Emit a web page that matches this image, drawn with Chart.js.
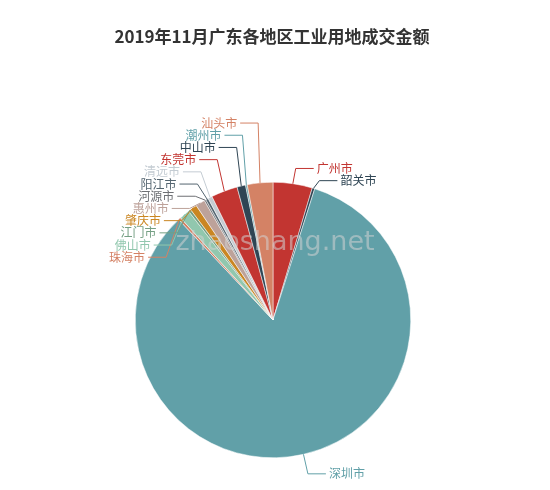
<!DOCTYPE html>
<html><head><meta charset="utf-8">
<script src="https://cdn.jsdelivr.net/npm/chart.js@4"></script>
<style>body{margin:0;background:#fff}#w{width:550px;height:490px}</style></head>
<body><div id="w"><canvas id="c"></canvas></div>
<script>
const categories=['广州市','韶关市','深圳市','珠海市','佛山市','江门市','肇庆市','惠州市','河源市','阳江市','清远市','东莞市','中山市','潮州市','汕头市'];
const values=[4.6,0.3,83.1,0.3,1.2,0.3,0.8,1.1,0.2,0.3,0.5,3.1,1.0,0.2,3.0];
const colors=['#c23531','#2f4554','#61a0a8','#d48265','#91c7ae','#749f83','#ca8622','#bda29a','#6e7074','#546570','#c4ccd3','#c23531','#2f4554','#61a0a8','#d48265'];
const labelPlugin={id:'lbl',afterDraw(ch){
 const ctx=ch.ctx,meta=ch.getDatasetMeta(0);
 ctx.save();
 ctx.font='bold 17px "Noto Sans CJK SC"';ctx.fillStyle='#333';ctx.textAlign='center';ctx.textBaseline='middle';
 ctx.fillText('2019年11月广东各地区工业用地成交金额',272,37);
 const items=meta.data.map((a,i)=>{const m=(a.startAngle+a.endAngle)/2;const cx=a.x,cy=a.y,r=a.outerRadius;
  return {i,m,cy,x0:cx+Math.cos(m)*r,y0:cy+Math.sin(m)*r,x1:cx+Math.cos(m)*(r+20),y1:cy+Math.sin(m)*(r+20),right:Math.cos(m)>=0,cx};});
 ['L','R'].forEach(side=>{
  const g=items.filter(t=>(side==='R')===t.right&&t.y1<t.cy).sort((a,b)=>b.y1-a.y1);
  if(g.length<2)return;
  const m0=g.reduce((s,t)=>s+t.y1,0)/g.length;
  for(let k=1;k<g.length;k++){if(g[k].y1>g[k-1].y1-12.2)g[k].y1=g[k-1].y1-12.2;}
  const m1=g.reduce((s,t)=>s+t.y1,0)/g.length;
  g.forEach(t=>t.y1+=m0-m1+8);
 });
 ctx.font='12px "Noto Sans CJK SC"';ctx.textBaseline='middle';
 items.forEach(t=>{const c=colors[t.i];ctx.strokeStyle=c;ctx.lineWidth=1;
  const x2=t.x1+(t.right?18:-18);
  ctx.beginPath();ctx.moveTo(t.x0,t.y0);ctx.lineTo(t.x1,t.y1);ctx.lineTo(x2,t.y1);ctx.stroke();
  ctx.fillStyle=c;ctx.textAlign=t.right?'left':'right';ctx.fillText(categories[t.i],x2+(t.right?3:-3),t.y1);});
 ctx.font='27px "DejaVu Sans"';ctx.fillStyle='rgba(210,210,210,0.55)';ctx.textAlign='center';
 ctx.fillText('zhaoshang.net',275,243);
 ctx.restore();}};
new Chart(document.getElementById('c'),{type:'pie',
 data:{labels:categories,datasets:[{data:values,backgroundColor:colors,borderColor:'#fff',borderWidth:0.5}]},
 options:{responsive:true,maintainAspectRatio:false,animation:false,
  layout:{padding:{top:182,bottom:32,left:0,right:4}},
  plugins:{legend:{display:false},tooltip:{enabled:false}}},
 plugins:[labelPlugin]});
</script></body></html>
